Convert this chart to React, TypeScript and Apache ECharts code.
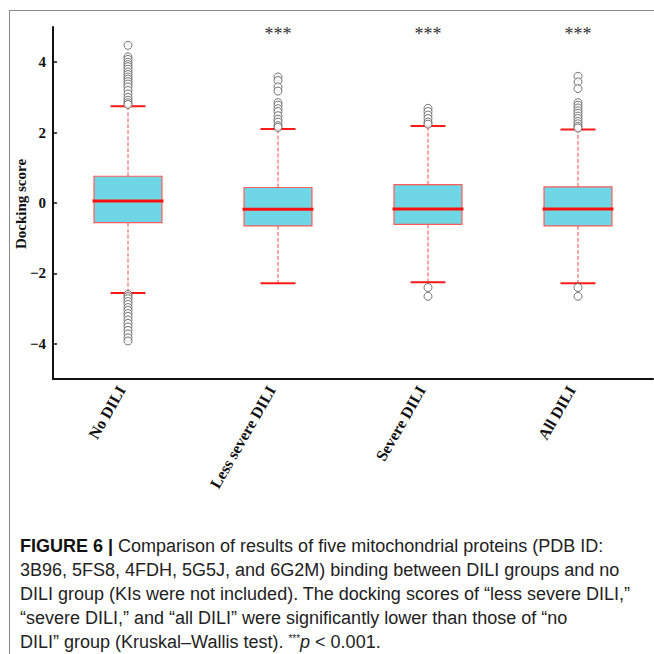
import React, { useEffect, useRef } from "react";
import * as echarts from "echarts";

const categories = ["No DILI", "Less severe DILI", "Severe DILI", "All DILI"];
const lowWhisker = [-2.56, -2.28, -2.25, -2.28];
const q1 = [-0.56, -0.65, -0.61, -0.65];
const median = [0.06, -0.18, -0.17, -0.17];
const q3 = [0.76, 0.44, 0.52, 0.46];
const highWhisker = [2.75, 2.1, 2.19, 2.09];

const outliersNoDili = [4.48, 4.15, 4.08, 4.0, 3.93, 3.87, 3.8, 3.72, 3.65, 3.58, 3.52, 3.45, 3.38, 3.3, 3.2, 3.1, 3.0, 2.92, 2.85, 2.8,
  -2.6, -2.66, -2.72, -2.8, -2.88, -2.97, -3.05, -3.14, -3.22, -3.32, -3.42, -3.52, -3.62, -3.72, -3.83, -3.92];
const outliersLessSevere = [3.58, 3.48, 3.3, 3.18, 2.85, 2.78, 2.68, 2.6, 2.48, 2.38, 2.3, 2.2, 2.15];
const outliersSevere = [2.69, 2.6, 2.5, 2.4, 2.3, 2.24, -2.4, -2.65];
const outliersAll = [3.6, 3.44, 3.25, 2.85, 2.78, 2.7, 2.62, 2.55, 2.47, 2.4, 2.32, 2.25, 2.18, 2.13, -2.4, -2.65];

const significance = ["", "***", "***", "***"];
const significanceY = 4.8;

const yTicks = [-4, -2, 0, 2, 4];
const yTitle = "Docking score";

const captionLines = [
  "Comparison of results of five mitochondrial proteins (PDB ID:",
  "3B96, 5FS8, 4FDH, 5G5J, and 6G2M) binding between DILI groups and no",
  "DILI group (KIs were not included). The docking scores of \u201cless severe DILI,\u201d",
  "\u201csevere DILI,\u201d and \u201call DILI\u201d were significantly lower than those of \u201cno",
  "DILI\u201d group (Kruskal\u2013Wallis test). ",
];

export default function App() {
  const ref = useRef<HTMLDivElement>(null);
  useEffect(() => {
    if (!ref.current) return;
    const chart = echarts.init(ref.current, null, { renderer: "svg" });

    const boxData = categories.map((_, i) => [i, lowWhisker[i], q1[i], median[i], q3[i], highWhisker[i]]);
    const outlierGroups = [outliersNoDili, outliersLessSevere, outliersSevere, outliersAll];
    const outlierData: number[][] = [];
    outlierGroups.forEach((arr, i) => arr.forEach((v) => outlierData.push([i, v])));
    const starData = significance.map((s, i) => [i, significanceY]).filter((d) => significance[d[0]] !== "");

    const serif = "Liberation Serif, Times New Roman, serif";
    const sans = "Liberation Sans, Arial, sans-serif";
    const capSize = 18;
    const capColor = "#222";
    const lineY = [547, 571, 595, 619, 643];

    const captionGraphics: any[] = captionLines.map((t, i) => {
      if (i === 0) {
        return {
          type: "text",
          left: 20,
          top: lineY[i] - 10,
          style: {
            rich: {
              b: { fontFamily: sans, fontWeight: "bold", fontSize: capSize, fill: "#111" },
              n: { fontFamily: sans, fontSize: capSize, fill: capColor },
            },
            text: "{b|FIGURE 6 | }{n|" + t + "}",
          },
        };
      }
      if (i === 4) {
        return {
          type: "text",
          left: 20,
          top: lineY[i] - 10,
          style: {
            rich: {
              n: { fontFamily: sans, fontSize: capSize, fill: capColor },
              s: { fontFamily: sans, fontSize: 10, fill: capColor, verticalAlign: "top", padding: [0, 0, 6, 0] },
              i: { fontFamily: sans, fontSize: capSize, fontStyle: "italic", fill: capColor },
            },
            text: "{n|" + t + "}{s|***}{i|p}{n| < 0.001.}",
          },
        };
      }
      return {
        type: "text",
        left: 20,
        top: lineY[i] - 10,
        style: { text: t, fontFamily: sans, fontSize: capSize, fill: capColor },
      };
    });

    chart.setOption({
      animation: false,
      backgroundColor: "#fff",
      grid: { left: 53, right: 1, top: 27, bottom: 275, outerBoundsMode: "none", containLabel: false },
      xAxis: {
        type: "category",
        data: categories,
        boundaryGap: true,
        axisLine: { onZero: false, lineStyle: { color: "#111", width: 2 } },
        axisTick: { inside: true, alignWithLabel: true, length: 5, lineStyle: { color: "#111", width: 1.5 } },
        axisLabel: {
          interval: 0,
          rotate: 60,
          margin: 5,
          formatter: (v: string) => "{a|" + v + "}",
          rich: {
            a: {
              fontFamily: serif,
              fontWeight: "bold",
              fontSize: 16,
              color: "#111",
              padding: [0, 6, 8, 0],
            },
          },
        },
        splitLine: { show: false },
      },
      yAxis: {
        type: "value",
        min: -5,
        max: 5,
        axisLine: { show: true, lineStyle: { color: "#111", width: 2 } },
        axisTick: { show: true, inside: true, length: 4, customValues: yTicks, lineStyle: { color: "#111", width: 1.5 } },
        axisLabel: {
          customValues: yTicks,
          margin: 7,
          fontFamily: serif,
          fontWeight: "bold",
          fontSize: 15,
          color: "#111",
          formatter: (v: number) => (v < 0 ? "\u2212" + Math.abs(v) : String(v)),
        },
        splitLine: { show: false },
      },
      graphic: [
        { type: "line", shape: { x1: 9, y1: 10.5, x2: 654, y2: 10.5 }, style: { stroke: "#888", lineWidth: 1 } },
        { type: "line", shape: { x1: 9.5, y1: 10, x2: 9.5, y2: 654 }, style: { stroke: "#888", lineWidth: 1 } },
        {
          type: "text",
          x: 21,
          y: 204,
          rotation: Math.PI / 2,
          style: {
            text: yTitle,
            fontFamily: serif,
            fontWeight: "bold",
            fontSize: 15,
            fill: "#111",
            align: "center",
            verticalAlign: "middle",
          },
        },
        ...captionGraphics,
      ],
      series: [
        {
          type: "custom",
          data: boxData,
          encode: { x: 0, y: [1, 2, 3, 4, 5] },
          renderItem: (params: any, api: any) => {
            const x = api.value(0);
            const band = api.size([1, 0])[0];
            const boxW = band * 0.453;
            const capW = band * 0.233;
            const pLow = api.coord([x, api.value(1)]);
            const pQ1 = api.coord([x, api.value(2)]);
            const pMed = api.coord([x, api.value(3)]);
            const pQ3 = api.coord([x, api.value(4)]);
            const pHigh = api.coord([x, api.value(5)]);
            const cx = pMed[0];
            const dash = { stroke: "#ff4a4a", lineWidth: 1, lineDash: [4, 2] };
            const cap = { stroke: "#ff1a1a", lineWidth: 2 };
            return {
              type: "group",
              children: [
                { type: "line", shape: { x1: cx, y1: pQ3[1], x2: cx, y2: pHigh[1] }, style: dash },
                { type: "line", shape: { x1: cx, y1: pQ1[1], x2: cx, y2: pLow[1] }, style: dash },
                { type: "line", shape: { x1: cx - capW / 2, y1: pHigh[1], x2: cx + capW / 2, y2: pHigh[1] }, style: cap },
                { type: "line", shape: { x1: cx - capW / 2, y1: pLow[1], x2: cx + capW / 2, y2: pLow[1] }, style: cap },
                {
                  type: "rect",
                  shape: { x: cx - boxW / 2, y: pQ3[1], width: boxW, height: pQ1[1] - pQ3[1] },
                  style: { fill: "#6fd6e5", stroke: "#ff5c5c", lineWidth: 1.2 },
                },
                {
                  type: "line",
                  shape: { x1: cx - boxW / 2 - 1.5, y1: pMed[1], x2: cx + boxW / 2 + 1.5, y2: pMed[1] },
                  style: { stroke: "#ff1010", lineWidth: 3 },
                },
              ],
            };
          },
          z: 2,
        },
        {
          type: "scatter",
          data: outlierData,
          symbol: "circle",
          symbolSize: 8,
          itemStyle: { color: "#fff", borderColor: "#555", borderWidth: 1 },
          z: 3,
        },
        {
          type: "custom",
          data: starData,
          encode: { x: 0, y: 1 },
          renderItem: (params: any, api: any) => {
            const p = api.coord([api.value(0), api.value(1)]);
            return {
              type: "text",
              x: p[0],
              y: p[1],
              style: {
                text: significance[api.value(0)],
                fontFamily: serif,
                fontSize: 18,
                fill: "#333",
                align: "center",
                verticalAlign: "middle",
              },
            };
          },
          z: 4,
        },
      ],
    });
    return () => chart.dispose();
  }, []);
  return <div ref={ref} style={{ position: "fixed", left: 0, top: 0, width: 654, height: 654 }} />;
}
